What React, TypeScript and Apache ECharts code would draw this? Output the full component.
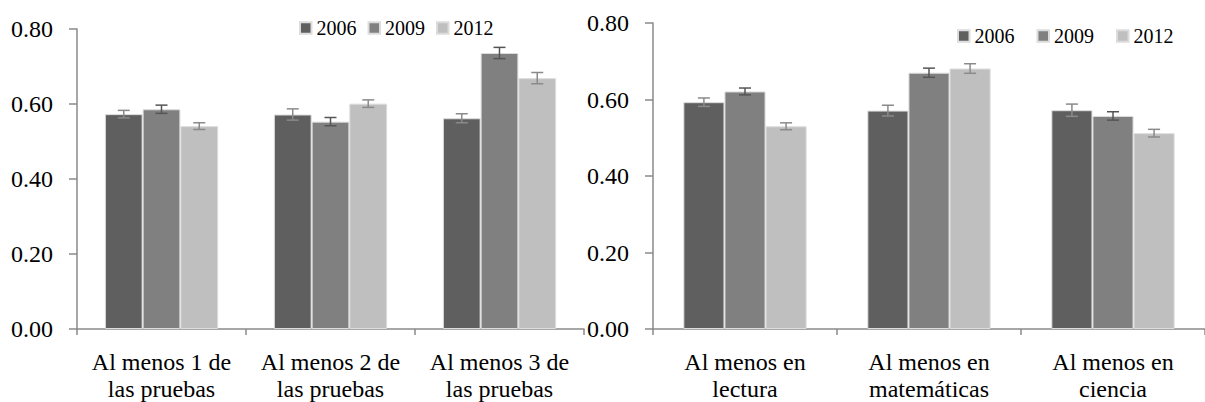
import React, { useEffect, useRef } from "react";
import * as echarts from "echarts";

// Categories for each panel
const categoriesLeft = [
  "Al menos 1 de\nlas pruebas",
  "Al menos 2 de\nlas pruebas",
  "Al menos 3 de\nlas pruebas",
];
const categoriesRight = [
  "Al menos en\nlectura",
  "Al menos en\nmatemáticas",
  "Al menos en\nciencia",
];
const years = ["2006", "2009", "2012"];

// Left panel: proportions and half-width of error bars
const left2006 = [0.573, 0.572, 0.562];
const left2009 = [0.586, 0.553, 0.736];
const left2012 = [0.541, 0.601, 0.669];
const leftErr2006 = [0.01, 0.015, 0.012];
const leftErr2009 = [0.011, 0.011, 0.015];
const leftErr2012 = [0.009, 0.01, 0.015];

// Right panel
const right2006 = [0.593, 0.571, 0.572];
const right2009 = [0.621, 0.67, 0.557];
const right2012 = [0.53, 0.681, 0.512];
const rightErr2006 = [0.011, 0.014, 0.016];
const rightErr2009 = [0.009, 0.012, 0.011];
const rightErr2012 = [0.009, 0.0125, 0.01];

const yTicks = [0, 0.2, 0.4, 0.6, 0.8];

const barColors = ["#5f5f5f", "#808080", "#bfbfbf"];
const errColors = ["#8a8a8a", "#555555", "#8a8a8a"];
const axisColor = "#8a8a8a";
const FONT = "'Liberation Serif', serif";
const GAP = 0.33;

function barSeries(name: string, data: number[], idx: number, axisIdx: number) {
  return {
    name,
    type: "bar",
    xAxisIndex: axisIdx,
    yAxisIndex: axisIdx,
    data,
    barGap: "0%",
    barCategoryGap: `${GAP * 100}%`,
    itemStyle: { color: barColors[idx], borderColor: "#dcdcdc", borderWidth: 1 },
    z: 2,
  };
}

function errorSeries(name: string, values: number[], errs: number[], idx: number, axisIdx: number) {
  const offset = idx - 1;
  return {
    name,
    type: "custom",
    xAxisIndex: axisIdx,
    yAxisIndex: axisIdx,
    z: 5,
    silent: true,
    data: values.map((v, i) => [i, v, errs[i]]),
    encode: { x: 0, y: 1 },
    renderItem: (_params: any, api: any) => {
      const x = api.value(0);
      const v = api.value(1);
      const e = api.value(2);
      const hi = api.coord([x, v + e]);
      const lo = api.coord([x, v - e]);
      const band = api.size([1, 0])[0];
      const bw = (band * (1 - GAP)) / 3;
      const cx = hi[0] + offset * bw;
      const hw = 6;
      const style = { stroke: errColors[idx], lineWidth: 1.5 };
      return {
        type: "group",
        children: [
          { type: "line", shape: { x1: cx, y1: hi[1], x2: cx, y2: lo[1] }, style },
          { type: "line", shape: { x1: cx - hw, y1: hi[1], x2: cx + hw, y2: hi[1] }, style },
          { type: "line", shape: { x1: cx - hw, y1: lo[1], x2: cx + hw, y2: lo[1] }, style },
        ],
      };
    },
  };
}

function xAxis(data: string[], gridIndex: number) {
  return {
    type: "category",
    gridIndex,
    data,
    axisLine: { lineStyle: { color: axisColor, width: 1.5 } },
    axisTick: { show: true, length: 6, lineStyle: { color: axisColor, width: 1.5 } },
    axisLabel: {
      interval: 0,
      margin: 19,
      color: "#000",
      fontFamily: FONT,
      fontSize: 24,
      lineHeight: 27,
    },
  };
}

function yAxis(gridIndex: number) {
  return {
    type: "value",
    gridIndex,
    min: yTicks[0],
    max: yTicks[yTicks.length - 1],
    interval: 0.2,
    splitLine: { show: false },
    axisLine: { show: true, lineStyle: { color: axisColor, width: 1.5 } },
    axisTick: { show: true, length: 8, lineStyle: { color: axisColor, width: 1.5 } },
    axisLabel: {
      margin: 24,
      color: "#000",
      fontFamily: FONT,
      fontSize: 24,
      formatter: (v: number) => v.toFixed(2),
    },
  };
}

function legend(left: number, top: number, gap: number) {
  return {
    data: years,
    left,
    top,
    padding: 0,
    itemGap: gap,
    itemWidth: 11.5,
    itemHeight: 11.5,
    icon: "rect",
    selectedMode: false,
    textStyle: { fontFamily: FONT, fontSize: 20, color: "#000", lineHeight: 20, padding: [0, 0, 0, 0] },
  };
}

export default function App() {
  const ref = useRef<HTMLDivElement>(null);

  useEffect(() => {
    if (!ref.current) return;
    const chart = echarts.init(ref.current, undefined, { renderer: "svg" });
    const leftVals = [left2006, left2009, left2012];
    const leftErrs = [leftErr2006, leftErr2009, leftErr2012];
    const rightVals = [right2006, right2009, right2012];
    const rightErrs = [rightErr2006, rightErr2009, rightErr2012];

    chart.setOption({
      animation: false,
      backgroundColor: "#ffffff",
      textStyle: { fontFamily: FONT },
      legend: [legend(299, 18, 11), legend(957, 26, 22)],
      grid: [
        { left: 77, top: 29, width: 507, height: 301 },
        { left: 653, top: 23, width: 565, height: 309 },
      ],
      xAxis: [xAxis(categoriesLeft, 0), xAxis(categoriesRight, 1)],
      yAxis: [yAxis(0), yAxis(1)],
      series: [
        ...years.map((y, i) => barSeries(y, leftVals[i], i, 0)),
        ...years.map((y, i) => barSeries(y, rightVals[i], i, 1)),
        ...years.map((y, i) => errorSeries(y, leftVals[i], leftErrs[i], i, 0)),
        ...years.map((y, i) => errorSeries(y, rightVals[i], rightErrs[i], i, 1)),
      ],
    });
    return () => chart.dispose();
  }, []);

  return (
    <div
      ref={ref}
      style={{ position: "fixed", left: 0, top: 0, width: 1205, height: 402, background: "#fff" }}
    />
  );
}
